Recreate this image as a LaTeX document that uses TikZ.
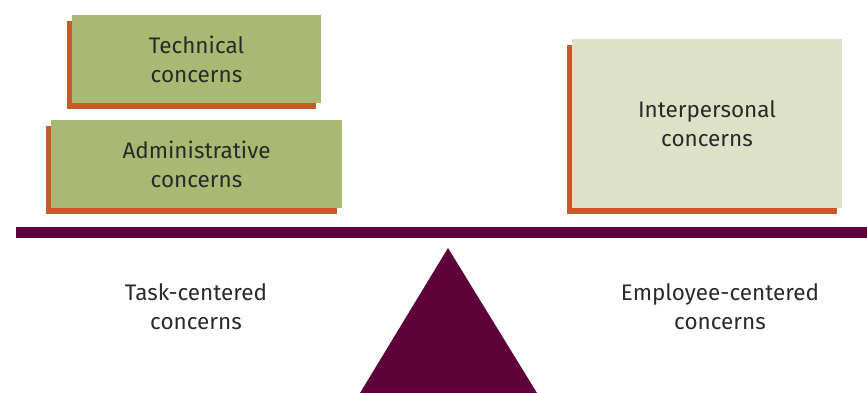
\documentclass[tikz,border=0pt]{standalone}
\usepackage{fontspec}
\setmainfont{Fira Sans}
\usepackage{xcolor}
\usepackage{tikz}
\usetikzlibrary{shadows,positioning,calc}
\definecolor{concerngreen}{RGB}{169,184,114}
\definecolor{concernpale}{RGB}{221,226,198}
\definecolor{shadoworange}{RGB}{198,90,40}
\definecolor{beampurple}{RGB}{94,0,58}
\definecolor{textgray}{RGB}{42,42,42}

\tikzset{
    concern/.style={rectangle, fill=concerngreen, align=center, text=textgray,
        font=\fontsize{22.5}{29}\selectfont, inner sep=0pt,
        copy shadow={shadow xshift=-5pt, shadow yshift=-6pt, fill=shadoworange, draw=none}},
    side/.style={align=center, text=textgray, font=\fontsize{22.5}{29}\selectfont}
}

\begin{document}
\begin{tikzpicture}[x=1pt,y=-1pt]
\useasboundingbox (0,0) rectangle (867,393);
\begin{scope}
    % Weights on the left
    \node[concern, minimum width=249pt, minimum height=88pt] (tech) at (196.5,59) {Technical\\concerns};
    \node[concern, minimum width=291pt, minimum height=88pt] (admin) at (196.5,164) {Administrative\\concerns};

    % Weight on the right
    \node[concern, fill=concernpale, minimum width=270pt, minimum height=169pt] (inter) at (707,123.5) {Interpersonal\\concerns};

    % Beam
    \fill[beampurple] (16,227) rectangle (867,238);

    % Fulcrum
    \coordinate (apex) at (448,248);
    \fill[beampurple] (apex) -- (537,393) -- (360,393) -- cycle;

    % Labels
    \node[side] (task) at (196,307) {Task-centered\\concerns};
    \node[side] (employee) at (720,307) {Employee-centered\\concerns};
\end{scope}
\end{tikzpicture}
\end{document}
